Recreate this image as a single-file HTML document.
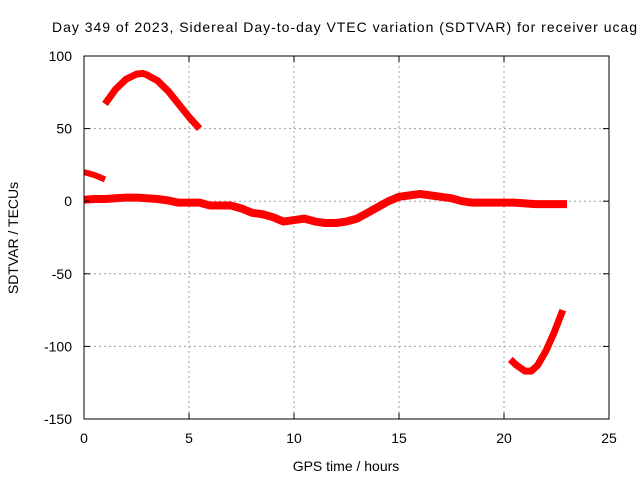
<!DOCTYPE html>
<html><head><meta charset="utf-8"><style>
body{margin:0;background:#fff}
svg{font-family:"Liberation Sans",sans-serif;font-size:14px}
</style></head><body>
<svg id="c" width="640" height="480">
<text x="52" y="32" textLength="585" lengthAdjust="spacing">Day 349 of 2023, Sidereal Day-to-day VTEC variation (SDTVAR) for receiver ucag</text>
<text x="346" y="471" text-anchor="middle">GPS time / hours</text>
<text transform="translate(18,238) rotate(-90)" text-anchor="middle">SDTVAR / TECUs</text>
<g id="grid"></g><g id="series"></g>
<rect x="84" y="56" width="525" height="363" fill="none" stroke="#000"/>
<g id="axes"></g>
</svg>
<script>
const xTicks=[0,5,10,15,20,25];
const yTicks=[100,50,0,-50,-100,-150];
const mainHours=[0,0.5,1,1.5,2,2.5,3,3.5,4,4.5,5,5.5,6,6.5,7,7.5,8,8.5,9,9.5,10,10.5,11,11.5,12,12.5,13,13.5,14,14.5,15,15.5,16,16.5,17,17.5,18,18.5,19,19.5,20,20.5,21,21.5,22,22.5,23];
const mainValues=[1,1.5,1.5,2,2.5,2.5,2,1.5,0.5,-1,-1,-1,-3,-3,-3,-5,-8,-9,-11,-14,-13,-12,-14,-15,-15,-14,-12,-8,-4,0,3,4,5,4,3,2,0,-1,-1,-1,-1,-1,-1.5,-2,-2,-2,-2];
const arcHours=[1,1.5,2,2.5,2.8,3,3.5,4,4.5,5,5.5];
const arcValues=[67,77,84,87.5,88,87,83,76,67,58,50];
const shortHours=[0,0.5,1];
const shortValues=[20,18,15];
const tailHours=[20.3,20.6,21,21.3,21.6,22,22.4,22.8];
const tailValues=[-109,-113,-117,-117,-113,-103,-90,-75];
const X=h=>84+h*21, Y=v=>56+(100-v)*363/250;
const NS="http://www.w3.org/2000/svg";
function mk(t,a,p){const e=document.createElementNS(NS,t);for(const k in a)e.setAttribute(k,a[k]);p.appendChild(e);return e;}
const g=document.getElementById('grid'),ax=document.getElementById('axes'),s=document.getElementById('series');
xTicks.forEach(t=>{const x=X(t);
 if(t>0&&t<25){const l=mk('line',{x1:x,x2:x,y1:56,y2:419,stroke:'#a0a0a0','stroke-dasharray':'2,3'},g);
 
 }
 mk('line',{x1:x,x2:x,y1:419,y2:413,stroke:'#000'},ax);mk('line',{x1:x,x2:x,y1:56,y2:62,stroke:'#000'},ax);
 const tx=mk('text',{x:x,y:443,'text-anchor':'middle'},ax);tx.textContent=t;
 
 });
yTicks.forEach(t=>{const y=Y(t);
 if(t<100&&t>-150){const l=mk('line',{x1:84,x2:609,y1:y,y2:y,stroke:'#a0a0a0','stroke-dasharray':'2,3'},g);
 
 }
 mk('line',{x1:84,x2:90,y1:y,y2:y,stroke:'#000'},ax);mk('line',{x1:609,x2:603,y1:y,y2:y,stroke:'#000'},ax);
 const tx=mk('text',{x:72,y:y+5,'text-anchor':'end'},ax);tx.textContent=t;
 
 });
function line(hs,vs,w,name){const p=mk('polyline',{points:hs.map((h,i)=>X(h)+','+Y(vs[i])).join(' '),fill:'none',stroke:'#f00','stroke-width':w,'stroke-linejoin':'round'},s);
 
 }
line(mainHours,mainValues,8,'main-series');
line(arcHours,arcValues,7,'arc-series');
line(shortHours,shortValues,6,'short-series');
line(tailHours,tailValues,7,'tail-series');
</script>
</body></html>
